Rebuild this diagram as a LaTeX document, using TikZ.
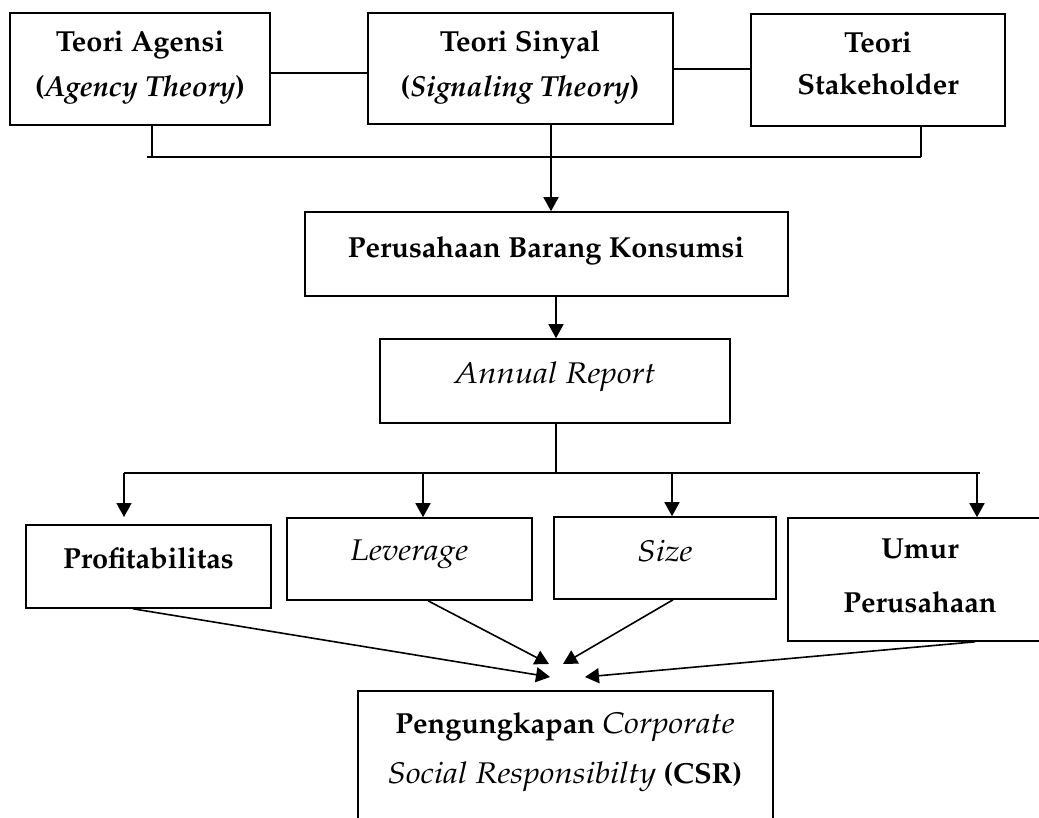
\documentclass[tikz,border=0pt]{standalone}
\usepackage[T1]{fontenc}
\usepackage{mathpazo}
\usetikzlibrary{arrows.meta}
\newcommand\itx[1]{{\mdseries\itshape\scalebox{1.14}[1.03]{#1}}}
\begin{document}
\begin{tikzpicture}[x=1pt,y=-1pt,
  box/.style={draw, line width=1.6pt, rectangle, inner sep=0pt},
  txt/.style={anchor=base, inner sep=0pt, font=\fontsize{29}{35}\selectfont\bfseries},
  ln/.style={line width=1.6pt},
  arr/.style={line width=1.6pt, -{Triangle[length=14pt,width=15pt]}}]
\useasboundingbox (0,0) rectangle (1039,818);
\fill[white] (0,0) rectangle (1039,818);
% boxes
\node[box, minimum width=260, minimum height=112] (agensi) at (140,69) {};
\node[box, minimum width=305, minimum height=111] (sinyal) at (520.5,68.5) {};
\node[box, minimum width=254, minimum height=112] (stake) at (878,70) {};
\node[box, minimum width=483, minimum height=84] (perus) at (546.5,254) {};
\node[box, minimum width=350, minimum height=84] (annual) at (555,381) {};
\node[box, minimum width=245, minimum height=83] (prof) at (148.5,566.5) {};
\node[box, minimum width=245, minimum height=82] (lev) at (409.5,559) {};
\node[box, minimum width=222, minimum height=82] (size) at (665,558) {};
\node[box, minimum width=264, minimum height=123] (umur) at (920,579.5) {};
\node[box, minimum width=415, minimum height=159] (csr) at (565.5,770.5) {};
% texts
\node[txt] (agensi1) at (140,52) {Teori Agensi};
\node[txt] (agensi2) at (140,97) {(\textit{Agency Theory})};
\node[txt] (sinyal1) at (520,52) {Teori Sinyal};
\node[txt] (sinyal2) at (520,97) {(\textit{Signaling Theory})};
\node[txt] (stake1) at (878,53) {Teori};
\node[txt] (stake2) at (878,95) {Stakeholder};
\node[txt] (perus1) at (546,258) {Perusahaan Barang Konsumsi};
\node[txt] (annual1) at (555,384) {\itx{Annual Report}};
\node[txt] (prof1) at (148.5,568) {Profitabilitas};
\node[txt] (lev1) at (409.5,560) {\itx{Leverage}};
\node[txt] (size1) at (665,561) {\itx{Size}};
\node[txt] (umur1) at (920,558) {Umur};
\node[txt] (umur2) at (920,612) {Perusahaan};
\node[txt] (csr1) at (565,733) {Pengungkapan \itx{Corporate}};
\node[txt] (csr2) at (565,783) {\itx{Social Responsibilty} (CSR)};
% coordinates
\coordinate (busL) at (147,157);
\coordinate (busR) at (921,157);
\coordinate (bus2L) at (124,473);
\coordinate (bus2R) at (980,473);
\coordinate (tipP) at (550,677);
\coordinate (tipL) at (549,664);
\coordinate (tipS) at (563,664);
\coordinate (tipU) at (585,677);
% top connectors
\draw[ln] (agensi.east |- 0,73) -- (sinyal.west |- 0,73);
\draw[ln] (sinyal.east |- 0,69) -- (stake.west |- 0,69);
\draw[ln] (152,0 |- agensi.south) -- (152,0 |- busL);
\draw[ln] (busL) -- (busR);
\draw[ln] (921,0 |- stake.south) -- (busR);
\draw[arr] (551,0 |- sinyal.south) -- (551,0 |- perus.north);
\draw[arr] (556,0 |- perus.south) -- (556,0 |- annual.north);
% second bus
\draw[ln] (556,0 |- annual.south) -- (556,0 |- bus2L);
\draw[ln] (bus2L) -- (bus2R);
\draw[arr] (bus2L) -- (124,517);
\draw[arr] (423,0 |- bus2L) -- (423,0 |- lev.north);
\draw[arr] (672,0 |- bus2L) -- (672,0 |- size.north);
\draw[arr] (977,0 |- bus2L) -- (977,0 |- umur.north);
% to CSR
\draw[arr] (133,0 |- prof.south) -- (tipP);
\draw[arr] (428,0 |- lev.south) -- (tipL);
\draw[arr] (673,0 |- size.south) -- (tipS);
\draw[arr] (975,0 |- umur.south) -- (tipU);
\end{tikzpicture}
\end{document}
